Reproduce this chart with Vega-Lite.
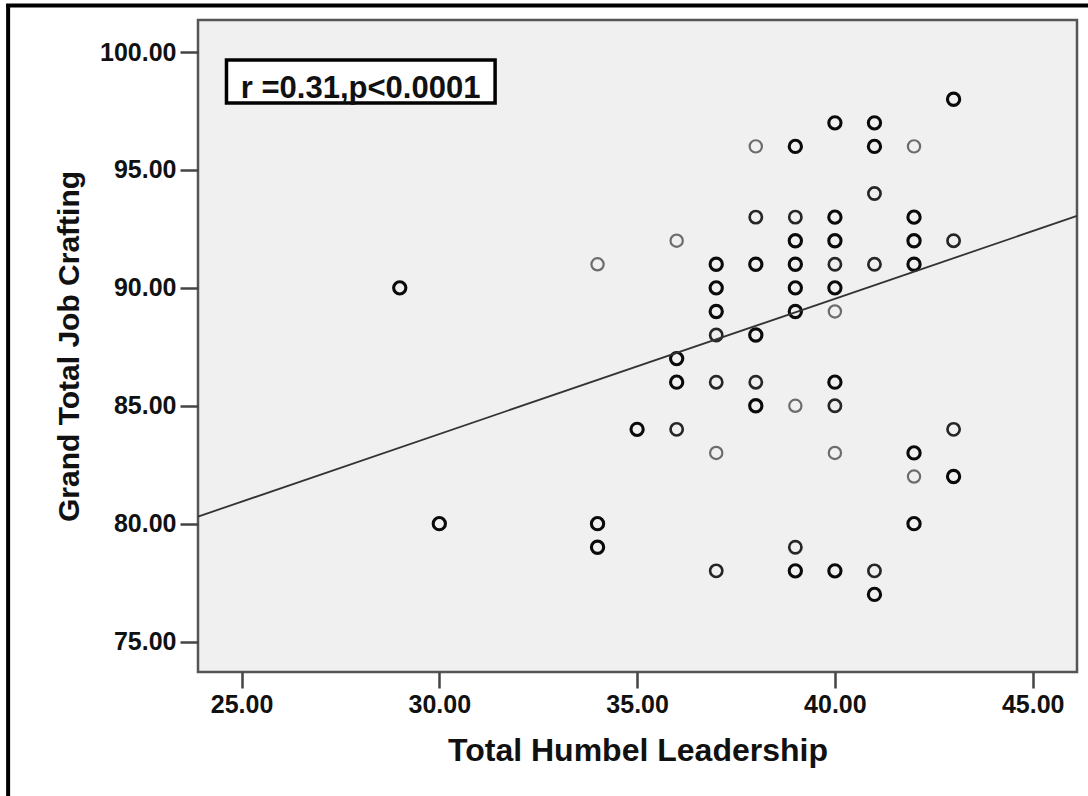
{
  "$schema": "https://vega.github.io/schema/vega-lite/v6.json",
  "width": 879,
  "height": 652,
  "autosize": {"type": "none"},
  "padding": {"left": 198, "top": 20, "right": 11, "bottom": 124},
  "background": "white",
  "config": {
    "font": "Liberation Sans",
    "view": {"fill": "#f0f0f0", "stroke": "#555555", "strokeWidth": 2.5},
    "axis": {
      "grid": false,
      "domain": false,
      "labelFont": "Liberation Sans",
      "labelFontSize": 25,
      "labelFontWeight": "bold",
      "labelColor": "#111111",
      "tickColor": "#444444",
      "tickWidth": 2.5,
      "titleFont": "Liberation Sans",
      "titleFontWeight": "bold",
      "titleColor": "#111111"
    }
  },
  "datasets": {
    "points": [
      {"leadership": 29, "crafting": 90, "n": 3},
      {"leadership": 30, "crafting": 80, "n": 3},
      {"leadership": 34, "crafting": 91, "n": 1},
      {"leadership": 34, "crafting": 80, "n": 3},
      {"leadership": 34, "crafting": 79, "n": 3},
      {"leadership": 35, "crafting": 84, "n": 3},
      {"leadership": 36, "crafting": 92, "n": 1},
      {"leadership": 36, "crafting": 87, "n": 3},
      {"leadership": 36, "crafting": 86, "n": 3},
      {"leadership": 36, "crafting": 84, "n": 2},
      {"leadership": 37, "crafting": 91, "n": 3},
      {"leadership": 37, "crafting": 90, "n": 3},
      {"leadership": 37, "crafting": 89, "n": 3},
      {"leadership": 37, "crafting": 88, "n": 2},
      {"leadership": 37, "crafting": 86, "n": 2},
      {"leadership": 37, "crafting": 83, "n": 1},
      {"leadership": 37, "crafting": 78, "n": 2},
      {"leadership": 38, "crafting": 96, "n": 1},
      {"leadership": 38, "crafting": 93, "n": 2},
      {"leadership": 38, "crafting": 91, "n": 3},
      {"leadership": 38, "crafting": 88, "n": 3},
      {"leadership": 38, "crafting": 86, "n": 2},
      {"leadership": 38, "crafting": 85, "n": 3},
      {"leadership": 39, "crafting": 96, "n": 3},
      {"leadership": 39, "crafting": 93, "n": 2},
      {"leadership": 39, "crafting": 92, "n": 3},
      {"leadership": 39, "crafting": 91, "n": 3},
      {"leadership": 39, "crafting": 90, "n": 3},
      {"leadership": 39, "crafting": 89, "n": 3},
      {"leadership": 39, "crafting": 85, "n": 1},
      {"leadership": 39, "crafting": 79, "n": 2},
      {"leadership": 39, "crafting": 78, "n": 3},
      {"leadership": 40, "crafting": 97, "n": 3},
      {"leadership": 40, "crafting": 93, "n": 3},
      {"leadership": 40, "crafting": 92, "n": 3},
      {"leadership": 40, "crafting": 91, "n": 2},
      {"leadership": 40, "crafting": 90, "n": 3},
      {"leadership": 40, "crafting": 89, "n": 1},
      {"leadership": 40, "crafting": 86, "n": 3},
      {"leadership": 40, "crafting": 85, "n": 2},
      {"leadership": 40, "crafting": 83, "n": 1},
      {"leadership": 40, "crafting": 78, "n": 3},
      {"leadership": 41, "crafting": 97, "n": 3},
      {"leadership": 41, "crafting": 96, "n": 3},
      {"leadership": 41, "crafting": 94, "n": 2},
      {"leadership": 41, "crafting": 91, "n": 2},
      {"leadership": 41, "crafting": 78, "n": 2},
      {"leadership": 41, "crafting": 77, "n": 3},
      {"leadership": 42, "crafting": 96, "n": 1},
      {"leadership": 42, "crafting": 93, "n": 3},
      {"leadership": 42, "crafting": 92, "n": 3},
      {"leadership": 42, "crafting": 91, "n": 3},
      {"leadership": 42, "crafting": 83, "n": 3},
      {"leadership": 42, "crafting": 82, "n": 1},
      {"leadership": 42, "crafting": 80, "n": 3},
      {"leadership": 43, "crafting": 98, "n": 3},
      {"leadership": 43, "crafting": 92, "n": 2},
      {"leadership": 43, "crafting": 84, "n": 2},
      {"leadership": 43, "crafting": 82, "n": 3}
    ],
    "fit": [
      {"leadership": 23.9, "crafting": 80.3},
      {"leadership": 46.12, "crafting": 93.05}
    ],
    "note": [
      {"leadership": 24.62, "leadership2": 31.41, "crafting": 99.66, "crafting2": 97.84, "xc": 28.01, "yc": 98.04, "label": "r =0.31,p<0.0001"}
    ],
    "frame": [
      {"leadership": 19.1, "leadership2": 19.1, "crafting": 102.04, "crafting2": 68.3},
      {"leadership": 19.05, "leadership2": 46.5, "crafting": 101.97, "crafting2": 101.97}
    ]
  },
  "encoding": {
    "x": {
      "field": "leadership",
      "type": "quantitative",
      "scale": {"domain": [23.9, 46.12], "nice": false, "zero": false},
      "axis": {
        "values": [25, 30, 35, 40, 45],
        "format": ".2f",
        "title": "Total Humbel Leadership",
        "titleFontSize": 32,
        "tickSize": 16,
        "labelPadding": 4,
        "titlePadding": 18
      }
    },
    "y": {
      "field": "crafting",
      "type": "quantitative",
      "scale": {"domain": [73.71, 101.36], "nice": false, "zero": false},
      "axis": {
        "values": [75, 80, 85, 90, 95, 100],
        "format": ".2f",
        "title": "Grand Total Job Crafting",
        "titleFontSize": 30,
        "tickSize": 18,
        "labelPadding": 4,
        "titlePadding": 15
      }
    }
  },
  "layer": [
    {
      "data": {"name": "points"},
      "mark": {"type": "point", "shape": "circle", "filled": false, "size": 150, "opacity": 1},
      "encoding": {
        "stroke": {
          "field": "n",
          "type": "ordinal",
          "scale": {"domain": [1, 2, 3], "range": ["#6c6c6c", "#262626", "#0a0a0a"]},
          "legend": null
        },
        "strokeWidth": {
          "field": "n",
          "type": "quantitative",
          "scale": {"domain": [1, 3], "range": [2.2, 3.1]},
          "legend": null
        }
      }
    },
    {
      "data": {"name": "fit"},
      "mark": {"type": "line", "color": "#333333", "strokeWidth": 1.8},
      "encoding": {}
    },
    {
      "data": {"name": "note"},
      "mark": {"type": "rect", "fill": "white", "stroke": "black", "strokeWidth": 3.5},
      "encoding": {
        "x2": {"field": "leadership2"},
        "y2": {"field": "crafting2"}
      }
    },
    {
      "data": {"name": "note"},
      "mark": {"type": "text", "font": "Liberation Sans", "fontWeight": "bold", "fontSize": 31, "color": "#111111", "align": "center", "baseline": "alphabetic"},
      "encoding": {
        "x": {"field": "xc", "type": "quantitative"},
        "y": {"field": "yc", "type": "quantitative"},
        "text": {"field": "label"}
      }
    },
    {
      "data": {"name": "frame"},
      "mark": {"type": "rule", "color": "black", "strokeWidth": 4},
      "encoding": {
        "x2": {"field": "leadership2"},
        "y2": {"field": "crafting2"}
      }
    }
  ]
}
